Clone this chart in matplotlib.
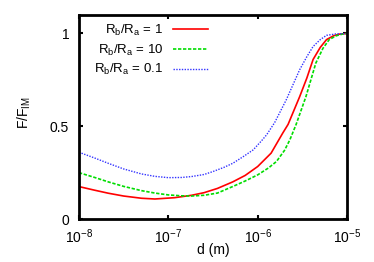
import numpy as np
import matplotlib
matplotlib.use("Agg")
import matplotlib.pyplot as plt

plt.rcParams['font.family'] = ['Liberation Sans', 'DejaVu Sans']
plt.rcParams['mathtext.fontset'] = 'custom'
plt.rcParams['mathtext.rm'] = 'Liberation Sans'
plt.rcParams['mathtext.it'] = 'Liberation Sans'
plt.rcParams['mathtext.default'] = 'regular'

# log10(d) and F/F_IM
logd_1 = [-8.0, -7.83, -7.67, -7.5, -7.3, -7.15, -6.93, -6.74, -6.6, -6.45, -6.28, -6.14,
          -6.0, -5.85, -5.72, -5.66, -5.53, -5.45, -5.38, -5.3, -5.23, -5.15, -5.08, -5.0]
f_1 = [0.175, 0.156, 0.139, 0.124, 0.112, 0.108, 0.115, 0.128, 0.142, 0.165, 0.20, 0.235,
       0.283, 0.355, 0.463, 0.51, 0.66, 0.76, 0.86, 0.925, 0.967, 0.988, 0.997, 1.0]

logd_10 = [-8.0, -7.83, -7.67, -7.5, -7.3, -7.15, -7.0, -6.85, -6.74, -6.6, -6.45, -6.28, -6.14,
           -6.0, -5.88, -5.79, -5.7, -5.64, -5.57, -5.46, -5.35, -5.27, -5.2, -5.12, -5.05, -5.0]
f_10 = [0.25, 0.225, 0.20, 0.176, 0.153, 0.14, 0.13, 0.125, 0.124, 0.128, 0.14, 0.175, 0.205,
        0.238, 0.275, 0.31, 0.37, 0.427, 0.51, 0.66, 0.84, 0.92, 0.967, 0.988, 0.997, 1.0]

logd_01 = [-8.0, -7.83, -7.67, -7.5, -7.3, -7.15, -7.0, -6.85, -6.74, -6.6, -6.5, -6.38, -6.28,
           -6.15, -6.05, -5.96, -5.9, -5.81, -5.68, -5.53, -5.45, -5.38, -5.3, -5.23, -5.12, -5.0]
f_01 = [0.36, 0.33, 0.30, 0.27, 0.243, 0.23, 0.223, 0.224, 0.229, 0.24, 0.256, 0.278, 0.30,
        0.34, 0.373, 0.42, 0.454, 0.52, 0.643, 0.805, 0.875, 0.93, 0.967, 0.99, 0.998, 1.0]

xticks = [1e-8, 1e-7, 1e-6, 1e-5]
xtick_labels = ['$10^{-8}$', '$10^{-7}$', '$10^{-6}$', '$10^{-5}$']
yticks = [0, 0.5, 1]
ytick_labels = ['0', '0.5', '1']

fig = plt.figure(figsize=(3.74, 2.62), dpi=100)
ax = fig.add_axes([0.211, 0.164, 0.717, 0.779])

ax.plot(10**np.array(logd_1), f_1, color='#ff0000', lw=1.2, ls='-', label='R$_b$/R$_a$ = 1')
ax.plot(10**np.array(logd_10), f_10, color='#00dd00', lw=1.2, ls=(0, (2, 1)), label='R$_b$/R$_a$ = 10')
ax.plot(10**np.array(logd_01), f_01, color='#3333ff', lw=1.0, ls=(0, (1, 1)), label='R$_b$/R$_a$ = 0.1')

ax.set_xscale('log')
ax.set_xlim(1e-8, 1e-5)
ax.set_ylim(0, 1.1)
ax.set_xticks(xticks)
ax.set_xticklabels(xtick_labels)
ax.set_yticks(yticks)
ax.set_yticklabels(ytick_labels)
ax.minorticks_off()
ax.tick_params(direction='in', length=3, width=1.5, top=True, right=True, labelsize=10)
ax.tick_params(axis='x', pad=6)
ax.tick_params(axis='y', pad=7)

for s in ax.spines.values():
    s.set_linewidth(2)

ax.set_xlabel('d (m)', fontsize=10)
ax.xaxis.set_label_coords(0.5, -0.115)
ax.set_ylabel('F/F$_{IM}$', fontsize=10)
ax.yaxis.set_label_coords(-0.17, 0.52)

ax.legend(loc='upper left', bbox_to_anchor=(0.028, 1.0), frameon=False, markerfirst=False,
          fontsize=9.5, handlelength=2.65, handletextpad=0.7, labelspacing=0.35, borderaxespad=0.2)

fig.savefig('out.png', dpi=100)
